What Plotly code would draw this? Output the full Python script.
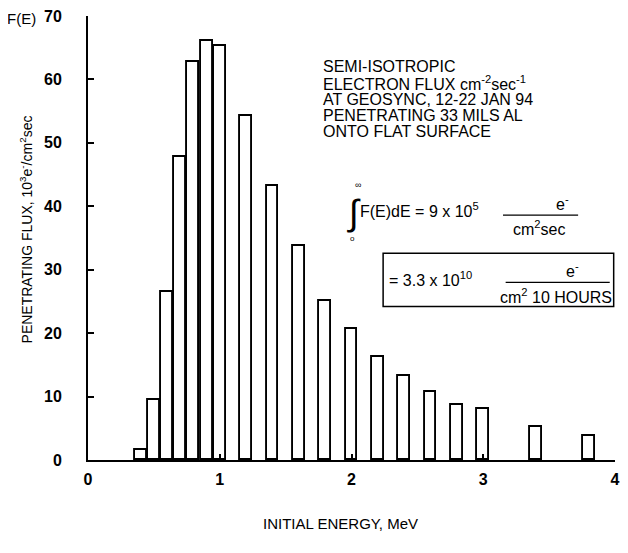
import plotly.graph_objects as go

# Data
energy_mev = [0.4, 0.5, 0.6, 0.7, 0.8, 0.9, 1.0, 1.2, 1.4, 1.6, 1.8, 2.0, 2.2, 2.4, 2.6, 2.8, 3.0, 3.4, 3.8]
flux = [1.5, 9.4, 26.5, 47.7, 62.7, 66.0, 65.2, 54.3, 43.2, 33.7, 25.1, 20.6, 16.3, 13.3, 10.7, 8.6, 8.0, 5.2, 3.8]
x_ticks = [0, 1, 2, 3, 4]
x_ticktext = ["0", "1", "2", "3", "4"]
y_ticks = [0, 10, 20, 30, 40, 50, 60, 70]
y_ticktext = ["0", "10", "20", "30", "40", "50", "60", "70"]

FONT = "Liberation Sans, Arial, Helvetica, sans-serif"

fig = go.Figure()
fig.add_trace(go.Bar(
    x=energy_mev, y=flux, width=0.09,
    marker=dict(color="white", line=dict(color="black", width=1.9)),
    hoverinfo="skip",
))

# the page body adds an 8px margin, so the figure is kept inside the visible area
fig.update_layout(
    width=612, height=537,
    margin=dict(l=80, r=5, t=8, b=85, autoexpand=False),
    paper_bgcolor="white", plot_bgcolor="white",
    showlegend=False,
    font=dict(family=FONT, color="black"),
    bargap=0,
)
fig.update_xaxes(
    range=[0, 4], tickvals=x_ticks, ticktext=x_ticktext,
    showline=True, linecolor="black", linewidth=1.8,
    ticks="inside", ticklen=6, tickwidth=1.6, tickcolor="black",
    showgrid=False, zeroline=False, automargin=False,
    ticklabeloverflow="allow",
    tickfont=dict(size=16, family=FONT, weight="bold"),
    ticklabelstandoff=4,
)
fig.update_yaxes(
    range=[0, 70], tickvals=y_ticks, ticktext=y_ticktext,
    showline=True, linecolor="black", linewidth=2,
    ticks="inside", ticklen=6, tickwidth=2, tickcolor="black",
    showgrid=False, zeroline=False, automargin=False,
    ticklabeloverflow="allow",
    tickfont=dict(size=16, family=FONT, weight="bold"),
    ticklabelstandoff=21,
)

def ann(text, x, y, size=16, xanchor="center", yanchor="middle", xref="x", yref="y", angle=0):
    fig.add_annotation(text=text, x=x, y=y, xref=xref, yref=yref, showarrow=False,
                       xanchor=xanchor, yanchor=yanchor, textangle=angle,
                       font=dict(size=size, family=FONT, color="black"))

# axis labels
ann("F(E)", -0.127, 0.995, size=15, xref="paper", yref="paper")
ann("PENETRATING FLUX, 10<sup>3</sup>e<sup>-</sup>/cm<sup>2</sup>sec", -0.117, 0.52, size=14,
    xref="paper", yref="paper", angle=-90)
ann("INITIAL ENERGY, MeV", 0.48, -0.142, size=15, xref="paper", yref="paper")

# description block
lines = ["SEMI-ISOTROPIC",
         "ELECTRON FLUX cm<sup>-2</sup>sec<sup>-1</sup>",
         "AT GEOSYNC, 12-22 JAN 94",
         "PENETRATING 33 MILS AL",
         "ONTO FLAT SURFACE"]
for i, t in enumerate(lines):
    ann(t, 1.77, 62.0 - 2.55 * i, size=16, xanchor="left")

# integral expression
ann("\u222b", 2.02, 39.0, size=36)
ann("\u221e", 2.05, 43.3, size=9)
ann("o", 2.005, 35.0, size=8)
ann("F(E)dE = 9 x 10<sup>5</sup>", 2.05, 39.4, size=16, xanchor="left")
fig.add_shape(type="line", x0=3.15, x1=3.72, y0=38.6, y1=38.6, line=dict(color="black", width=1.2))
ann("e<sup>-</sup>", 3.6, 40.5, size=16)
ann("cm<sup>2</sup>sec", 3.42, 36.5, size=16)

# boxed expression
fig.add_shape(type="rect", x0=2.24, x1=3.99, y0=24.2, y1=32.6, line=dict(color="black", width=1.5))
ann("= 3.3 x 10<sup>10</sup>", 2.27, 28.6, size=16, xanchor="left")
fig.add_shape(type="line", x0=3.17, x1=3.96, y0=28.0, y1=28.0, line=dict(color="black", width=1.2))
ann("e<sup>-</sup>", 3.68, 29.9, size=16)
ann("cm<sup>2</sup> 10 HOURS", 3.55, 25.9, size=16)

fig.write_html("out.html")
